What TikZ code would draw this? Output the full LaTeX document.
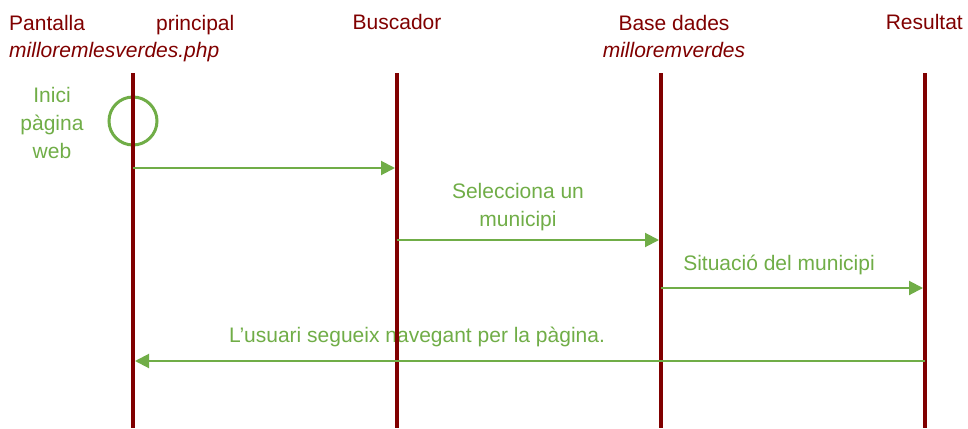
\documentclass[tikz,border=0pt]{standalone}
\usepackage{fontspec}
\setmainfont{Liberation Sans}
\usetikzlibrary{arrows.meta}
\definecolor{vida}{RGB}{128,0,0}
\definecolor{missatge}{RGB}{112,173,71}

\begin{document}
\begin{tikzpicture}[x=1pt,y=-1pt]
  \tikzset{lifeline/.style = {draw=vida, line width=4pt}}
  \tikzset{msg/.style = {draw=missatge, line width=2pt, shorten >=2pt, -{Triangle[length=14pt,width=14pt]}}}
  \tikzset{header/.style = {text=vida, font=\fontsize{21}{28}\selectfont, inner sep=0pt, anchor=base}}
  \tikzset{msgtext/.style = {text=missatge, font=\fontsize{21}{28}\selectfont, inner sep=0pt, anchor=base, align=center}}

  \def\ytop{73}
  \def\ybot{428}

  \useasboundingbox (0,0) rectangle (968,428);

  % Headers
  \node[header, anchor=base west, align=left] (cap-pantalla) at (9,58) {Pantalla\hspace{71pt}principal\\\textit{milloremlesverdes.php}};
  \node[header] (cap-buscador) at (397,30) {Buscador};
  \node[header, align=center] (cap-base) at (674,58) {Base dades\\\textit{milloremverdes}};
  \node[header, anchor=base east] (cap-resultat) at (963,30) {Resultat};

  % Texts
  \node[msgtext] (inici-text) at (52,158) {Inici\\pàgina\\web};
  \node[msgtext] (sel-text) at (518,226) {Selecciona un\\municipi};
  \node[msgtext] (sit-text) at (779,270) {Situació del municipi};
  \node[msgtext] (usu-text) at (417,342) {L’usuari segueix navegant per la pàgina.};

  % Start
  \node[draw=missatge, line width=3pt, circle, minimum size=48pt, inner sep=0pt] (inici) at (133,121) {};

  % Lifelines
  \foreach \name/\x in {pantalla/133, buscador/397, base/661, resultat/925} {
    \coordinate (\name-top) at (\x,\ytop);
    \coordinate (\name-bot) at (\x,\ybot);
    \draw[lifeline] (\name-top) -- (\name-bot);
  }

  % Messages
  \draw[msg] (pantalla-top |- 0,168) -- (buscador-top |- 0,168);
  \draw[msg] (buscador-top |- 0,240) -- (base-top |- 0,240);
  \draw[msg] (base-top |- 0,288) -- (resultat-top |- 0,288);
  \draw[msg] (resultat-top |- 0,361) -- (pantalla-top |- 0,361);
\end{tikzpicture}
\end{document}
